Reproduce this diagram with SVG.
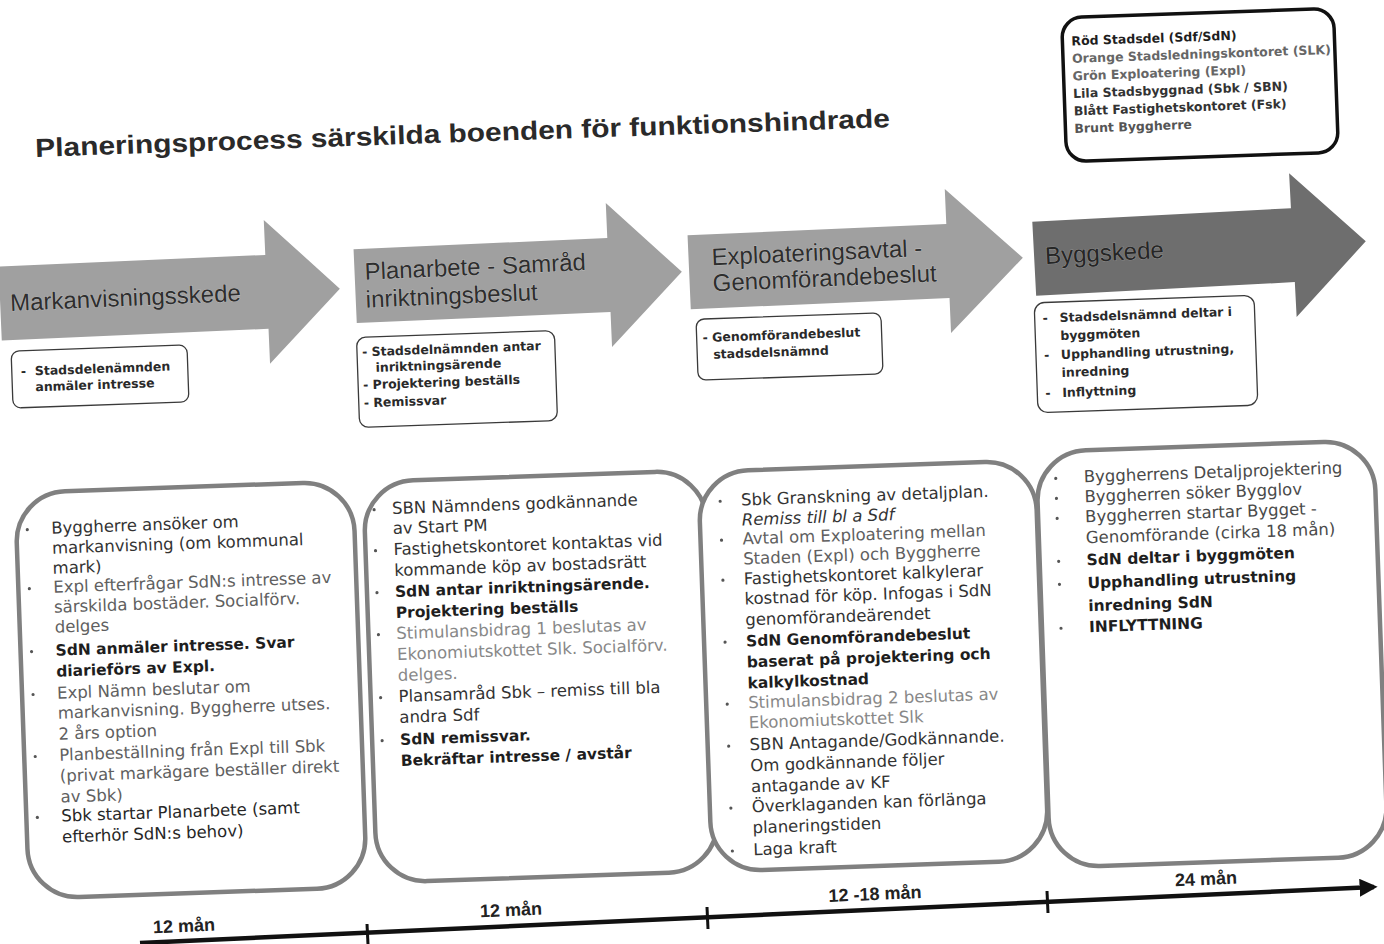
<svg xmlns="http://www.w3.org/2000/svg" width="1384" height="944" viewBox="0 0 1384 944">
<defs>
<style>
.t{font-family:"DejaVu Sans","Liberation Sans",sans-serif;font-size:16.5px;fill:#333}
.b{font-weight:bold;font-size:15.5px;fill:#1e1e1e}
.g{fill:#606060}
.l{fill:#888}
.i{font-style:italic}
.sm{font-family:"DejaVu Sans","Liberation Sans",sans-serif;font-weight:bold;font-size:12.5px;fill:#2a2a2a}
.big{fill:#fff;stroke:#808080;stroke-width:4.5}
.small{fill:#fff;stroke:#3a3a3a;stroke-width:1.3}
.arrow{fill:#a0a0a0}
.arrowdark{fill:#6e6e6e}
.at{font-family:"Liberation Sans",Arial,sans-serif;font-size:24px;fill:#2e2e2e;stroke:#c4c4c4;stroke-width:0.7px;paint-order:stroke}
.bul{fill:#555}
.tl{font-family:"Liberation Sans Narrow","Liberation Sans",Arial,sans-serif;font-size:18px;font-weight:bold;fill:#222}
</style>
<marker id="tip" viewBox="0 0 10 10" refX="8" refY="5" markerWidth="4" markerHeight="4" orient="auto">
<path d="M0 0 L10 5 L0 10 Z" fill="#111"/>
</marker>
</defs>
<rect width="1384" height="944" fill="#fff"/>

<g id="title" transform="rotate(-2 462 133)">
<text x="35" y="142" textLength="855" lengthAdjust="spacingAndGlyphs" style="font-family:'Liberation Sans',Arial,sans-serif;font-weight:bold;font-size:26px;fill:#2a2a2a">Planeringsprocess särskilda boenden för funktionshindrade</text>
</g>

<g id="legend" transform="rotate(-2 1200 85)">
<rect x="1064" y="13" width="272" height="144" rx="20" fill="#fff" stroke="#111" stroke-width="3.5"/>
<text class="sm" x="1073" y="41" style="fill:#1e1e1e">Röd Stadsdel (Sdf/SdN)</text>
<text class="sm" x="1073" y="58.5" style="fill:#666">Orange Stadsledningskontoret (SLK)</text>
<text class="sm" x="1073" y="76" style="fill:#666">Grön Exploatering (Expl)</text>
<text class="sm" x="1073" y="93.5" style="fill:#333">Lila Stadsbyggnad (Sbk / SBN)</text>
<text class="sm" x="1073" y="111" style="fill:#333">Blått Fastighetskontoret (Fsk)</text>
<text class="sm" x="1073" y="128.5" style="fill:#555">Brunt Byggherre</text>
</g>

<g id="arrow1" transform="rotate(-2.5 172 296)">
<path class="arrow" d="M0 259 L267 259 L267 224 L340 296 L267 368 L267 333 L0 333 Z"/>
<text class="at" x="10" y="304">Markanvisningsskede</text>
</g>
<g id="arrow2" transform="rotate(-2.5 518 279)">
<path class="arrow" d="M355 242 L609 242 L609 207 L682 279 L609 351 L609 316 L355 316 Z"/>
<text class="at" x="365" y="273">Planarbete - Samråd</text>
<text class="at" x="365" y="301">inriktningsbeslut</text>
</g>
<g id="arrow3" transform="rotate(-2.5 856 265)">
<path class="arrow" d="M689 228 L948 228 L948 193 L1023 265 L948 337 L948 302 L689 302 Z"/>
<text class="at" x="712" y="259">Exploateringsavtal -</text>
<text class="at" x="712" y="285">Genomförandebeslut</text>
</g>
<g id="arrow4" transform="rotate(-3 1200 250)">
<path class="arrowdark" d="M1034 213 L1293 213 L1293 178 L1366 250 L1293 322 L1293 287 L1034 287 Z"/>
<text class="at" x="1045" y="256" style="fill:#262626;stroke:#9a9a9a">Byggskede</text>
</g>

<g id="note1" transform="rotate(-2 100 376)">
<rect class="small" x="12" y="348" width="176" height="57" rx="8"/>
<text class="sm" x="21" y="373">-</text>
<text class="sm" x="35" y="373">Stadsdelenämnden</text>
<text class="sm" x="35" y="389">anmäler intresse</text>
</g>
<g id="note2" transform="rotate(-2 457 379)">
<rect class="small" x="358" y="334" width="198" height="90" rx="9"/>
<text class="sm" x="363" y="353">- Stadsdelnämnden antar</text>
<text class="sm" x="376" y="369">inriktningsärende</text>
<text class="sm" x="363" y="386">- Projektering beställs</text>
<text class="sm" x="363" y="404">- Remissvar</text>
</g>
<g id="note3" transform="rotate(-2 790 346)">
<rect class="small" x="697" y="316" width="185" height="61" rx="8"/>
<text class="sm" x="703" y="339">- Genomförandebeslut</text>
<text class="sm" x="713" y="356">stadsdelsnämnd</text>
</g>
<g id="note4" transform="rotate(-2 1146 354)">
<rect class="small" x="1036" y="299" width="220" height="110" rx="10"/>
<text class="sm" x="1044" y="319">-</text>
<text class="sm" x="1061" y="319">Stadsdelsnämnd deltar i</text>
<text class="sm" x="1061" y="337">byggmöten</text>
<text class="sm" x="1044" y="356">-</text>
<text class="sm" x="1061" y="356">Upphandling utrustning,</text>
<text class="sm" x="1061" y="374">inredning</text>
<text class="sm" x="1044" y="394">-</text>
<text class="sm" x="1061" y="394">Inflyttning</text>
</g>

<g id="box1" transform="rotate(-2 191 690)">
<rect class="big" x="22" y="487" width="338" height="406" rx="50"/>
<circle class="bul" cx="33" cy="524" r="1.6"/>
<text class="t" x="57" y="529">Byggherre ansöker om</text>
<text class="t" x="57" y="549">markanvisning (om kommunal</text>
<text class="t" x="57" y="569">mark)</text>
<circle class="bul" cx="33" cy="583" r="1.6"/>
<text class="t g" x="57" y="588">Expl efterfrågar SdN:s intresse av</text>
<text class="t g" x="57" y="608">särskilda bostäder. Socialförv.</text>
<text class="t g" x="57" y="628">delges</text>
<circle class="bul" cx="33" cy="646" r="1.6"/>
<text class="t b" x="57" y="651">SdN anmäler intresse. Svar</text>
<text class="t b" x="57" y="672">diarieförs av Expl.</text>
<circle class="bul" cx="33" cy="689" r="1.6"/>
<text class="t g" x="57" y="694">Expl Nämn beslutar om</text>
<text class="t g" x="57" y="714">markanvisning. Byggherre utses.</text>
<text class="t g" x="57" y="735">2 års option</text>
<circle class="bul" cx="33" cy="751" r="1.6"/>
<text class="t g" x="57" y="756">Planbeställning från Expl till Sbk</text>
<text class="t g" x="57" y="777">(privat markägare beställer direkt</text>
<text class="t g" x="57" y="798">av Sbk)</text>
<circle class="bul" cx="33" cy="812" r="1.6"/>
<text class="t" x="57" y="817" style="fill:#262626">Sbk startar Planarbete (samt</text>
<text class="t" x="57" y="838" style="fill:#262626">efterhör SdN:s behov)</text>
</g>

<g id="box2" transform="rotate(-2 541 676)">
<rect class="big" x="370" y="476" width="342" height="401" rx="50"/>
<circle class="bul" cx="380" cy="504" r="1.6"/>
<text class="t" x="398" y="509">SBN Nämndens godkännande</text>
<text class="t" x="398" y="529">av Start PM</text>
<circle class="bul" cx="380" cy="545" r="1.6"/>
<text class="t" x="398" y="550">Fastighetskontoret kontaktas vid</text>
<text class="t" x="398" y="571">kommande köp av bostadsrätt</text>
<circle class="bul" cx="380" cy="587" r="1.6"/>
<text class="t b" x="398" y="592">SdN antar inriktningsärende.</text>
<text class="t b" x="398" y="613">Projektering beställs</text>
<circle class="bul" cx="380" cy="629" r="1.6"/>
<text class="t l" x="398" y="634">Stimulansbidrag 1 beslutas av</text>
<text class="t l" x="398" y="655">Ekonomiutskottet Slk. Socialförv.</text>
<text class="t l" x="398" y="676">delges.</text>
<circle class="bul" cx="380" cy="692" r="1.6"/>
<text class="t" x="398" y="697">Plansamråd Sbk – remiss till bla</text>
<text class="t" x="398" y="718">andra Sdf</text>
<circle class="bul" cx="380" cy="735" r="1.6"/>
<text class="t b" x="398" y="740">SdN remissvar.</text>
<text class="t b" x="398" y="761">Bekräftar intresse / avstår</text>
</g>

<g id="box3" transform="rotate(-2 873 666)">
<rect class="big" x="705" y="466" width="337" height="400" rx="50"/>
<circle class="bul" cx="726" cy="496" r="1.6"/>
<text class="t" x="747" y="501">Sbk Granskning av detaljplan.</text>
<text class="t i" x="747" y="521">Remiss till bl a  Sdf</text>
<circle class="bul" cx="726" cy="535" r="1.6"/>
<text class="t g" x="747" y="540">Avtal om Exploatering mellan</text>
<text class="t g" x="747" y="560">Staden (Expl) och Byggherre</text>
<circle class="bul" cx="726" cy="575" r="1.6"/>
<text class="t" x="747" y="580">Fastighetskontoret kalkylerar</text>
<text class="t" x="747" y="600">kostnad för köp. Infogas i SdN</text>
<text class="t" x="747" y="621">genomförandeärendet</text>
<circle class="bul" cx="726" cy="637" r="1.6"/>
<text class="t b" x="747" y="642">SdN Genomförandebeslut</text>
<text class="t b" x="747" y="663">baserat på projektering och</text>
<text class="t b" x="747" y="684">kalkylkostnad</text>
<circle class="bul" cx="726" cy="699" r="1.6"/>
<text class="t l" x="747" y="704">Stimulansbidrag 2 beslutas av</text>
<text class="t l" x="747" y="724">Ekonomiutskottet Slk</text>
<circle class="bul" cx="726" cy="741" r="1.6"/>
<text class="t" x="747" y="746">SBN Antagande/Godkännande.</text>
<text class="t" x="747" y="767">Om godkännande följer</text>
<text class="t" x="747" y="788">antagande av KF</text>
<circle class="bul" cx="726" cy="803" r="1.6"/>
<text class="t" x="747" y="808">Överklaganden kan förlänga</text>
<text class="t" x="747" y="829">planeringstiden</text>
<circle class="bul" cx="726" cy="846" r="1.6"/>
<text class="t" x="747" y="851">Laga kraft</text>
</g>

<g id="box4" transform="rotate(-2 1212 654)">
<rect class="big" x="1043" y="446" width="338" height="416" rx="50"/>
<circle class="bul" cx="1062" cy="473" r="1.6"/>
<text class="t" x="1090" y="478" style="fill:#4a4a4a">Byggherrens Detaljprojektering</text>
<circle class="bul" cx="1062" cy="493" r="1.6"/>
<text class="t" x="1090" y="498" style="fill:#4a4a4a">Byggherren söker Bygglov</text>
<circle class="bul" cx="1062" cy="513" r="1.6"/>
<text class="t" x="1090" y="518" style="fill:#4a4a4a">Byggherren startar Bygget -</text>
<text class="t" x="1090" y="539" style="fill:#4a4a4a">Genomförande (cirka 18 mån)</text>
<circle class="bul" cx="1062" cy="556" r="1.6"/>
<text class="t b" x="1090" y="561">SdN deltar i byggmöten</text>
<circle class="bul" cx="1062" cy="579" r="1.6"/>
<text class="t b" x="1090" y="584">Upphandling utrustning</text>
<text class="t b" x="1090" y="607">inredning SdN</text>
<circle class="bul" cx="1062" cy="623" r="1.6"/>
<text class="t b" x="1090" y="628">INFLYTTNING</text>
</g>

<g id="timeline">
<line x1="140" y1="943" x2="1374" y2="887" stroke="#111" stroke-width="4.5" marker-end="url(#tip)"/>
<line x1="367" y1="924" x2="368" y2="944" stroke="#111" stroke-width="3"/>
<line x1="707" y1="907" x2="708" y2="929" stroke="#111" stroke-width="3"/>
<line x1="1047" y1="891" x2="1048" y2="913" stroke="#111" stroke-width="3"/>
<text class="tl" x="184" y="932" text-anchor="middle" transform="rotate(-2.5 184 926)">12 mån</text>
<text class="tl" x="511" y="916" text-anchor="middle" transform="rotate(-2.5 511 910)">12 mån</text>
<text class="tl" x="875" y="900" text-anchor="middle" transform="rotate(-2.5 875 894)">12 -18 mån</text>
<text class="tl" x="1206" y="885" text-anchor="middle" transform="rotate(-2.5 1206 879)">24 mån</text>
</g>
</svg>
